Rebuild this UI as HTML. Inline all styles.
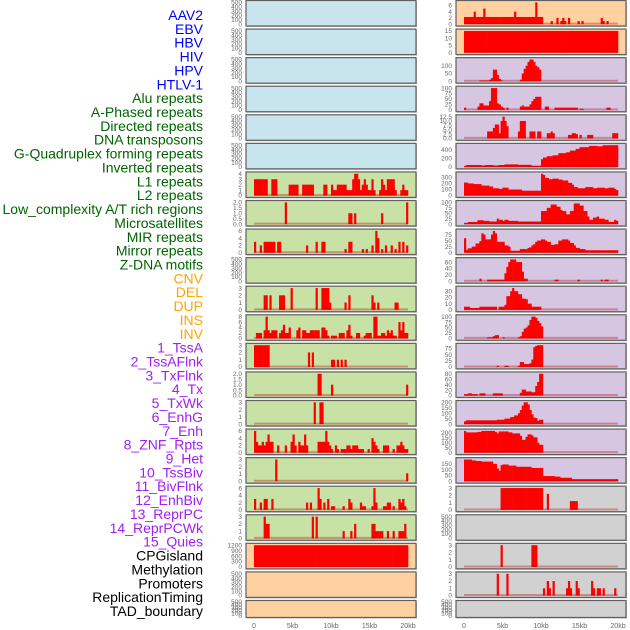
<!DOCTYPE html>
<html><head><meta charset="utf-8"><style>
html,body{margin:0;padding:0;background:#fff;}
svg{display:block;font-family:"Liberation Sans",sans-serif;}
</style></head><body>
<svg id="chart" width="630" height="630" viewBox="0 0 630 630"></svg>
<script>
// ---- data ----
const labels = ["AAV2","EBV","HBV","HIV","HPV","HTLV-1","Alu repeats","A-Phased repeats","Directed repeats","DNA transposons","G-Quadruplex forming repeats","Inverted repeats","L1 repeats","L2 repeats","Low_complexity A/T rich regions","Microsatellites","MIR repeats","Mirror repeats","Z-DNA motifs","CNV","DEL","DUP","INS","INV","1_TssA","2_TssAFlnk","3_TxFlnk","4_Tx","5_TxWk","6_EnhG","7_Enh","8_ZNF_Rpts","9_Het","10_TssBiv","11_BivFlnk","12_EnhBiv","13_ReprPC","14_ReprPCWk","15_Quies","CPGisland","Methylation","Promoters","ReplicationTiming","TAD_boundary"];
const labelGroups = ["v","v","v","v","v","v","r","r","r","r","r","r","r","r","r","r","r","r","r","s","s","s","s","s","c","c","c","c","c","c","c","c","c","c","c","c","c","c","c","o","o","o","o","o"];
const xTickValues = [0,5,10,15,20];
const xTickLabels = ["0","5kb","10kb","15kb","20kb"];
const leftBg = ["b","b","b","b","b","b","g","g","g","g","g","g","g","g","g","g","g","g","g","o","o","o"];
const rightBg = ["o","o","p","p","p","p","p","p","p","p","p","p","p","p","p","p","p","g2","g2","g2","g2","g2"];
const E = [];
const EMPTY_TICKS = ["0","100","200","300","400","500"];
const L6 = [3,3,3,3,3,3,3,0,0,3, 3,3,0,0,0,0,0,0,2,2, 2,2,2,0,0,2,2,2,2,2, 2,0,0,0,0,0,2,2,0,0, 2,1,1,2,2,2,2,2,1,1, 1,3,4,4,3,1,2,3,2,1, 1,3,1,0,0,1,3,2,1,3, 3,3,3,1,0,0,1,2,1,1];
const L7 = [0,0,0,0,0,0,0,0,0,0, 0,0,0,0,0,0,2,0,0,0, 0,0,0,0,0,0,0,0,0,0, 0,0,0,0,0,0,0,0,0,0, 0,0,0,0,0,0,0,0,0,1, 1,0,1,0,0,0,0,0,0,0, 0,0,0,0,0,0,1,0,0,0, 0,0,0,0,0,0,0,0,0,2];
const L8 = [3,0,0,2,0,3,3,3,3,3, 3,0,3,3,0,0,0,0,0,0, 0,0,0,0,0,0,0,2,0,0, 0,0,3,0,0,3,3,0,0,0, 0,0,0,0,0,0,0,1,0,3, 3,0,0,0,0,0,1,0,1,0, 0,2,0,6,4,0,1,0,2,0, 0,2,0,1,0,3,0,3,0,2];
const L10 = [0,0,0,0,0,2,2,0,2,0, 0,0,0,2,2,2,0,0,0,3, 0,0,0,0,0,0,0,0,0,0, 0,0,3,0,0,3,3,3,3,1, 0,0,0,0,0,0,0,1,0,2, 0,0,0,0,0,0,0,0,0,0, 0,2,1,0,1,0,0,0,0,0, 0,0,0,1,1,0,0,0,0,0];
const L11 = [0,2,2,2,0,3,8,3,2,3, 3,3,0,2,3,5,2,2,4,0, 0,0,3,4,0,3,3,2,2,3, 3,3,3,3,0,4,4,3,1,0, 1,1,1,0,2,2,2,0,3,5, 1,0,0,2,2,0,0,1,2,2, 2,0,8,8,1,1,2,2,1,3, 2,3,1,1,0,6,3,6,2,2];
const L12 = [3,3,3,3,3,3,3,3,0,0, 0,0,0,0,0,0,0,0,0,0, 0,0,0,0,0,0,0,0,2,0, 2,0,0,0,0,0,0,0,0,0, 1,1,0,1,0,1,0,1,0,0, 0,0,0,0,0,0,0,0,0,0, 0,0,0,0,0,0,0,0,0,0, 0,0,0,0,0,0,0,0,0,0];
const L13 = [0,0,0,0,0,0,0,0,0,0, 0,0,0,0,0,0,0,0,0,0, 0,0,0,0,0,0,0,0,0,0, 0,0,0,2,2,0,0,0,0,0, 1,0,0,0,0,0,0,0,0,0, 0,0,0,0,0,0,0,0,0,0, 0,0,0,0,0,0,0,0,0,0, 0,0,0,0,0,0,0,0,0,1];
const L14 = [0,0,0,0,0,0,0,0,0,0, 0,0,0,0,0,0,0,0,0,0, 0,0,0,0,0,0,0,0,0,0, 0,3,0,0,3,3,0,0,0,0, 0,0,0,0,0,0,0,0,0,0, 0,0,0,0,0,0,0,0,0,0, 0,0,0,0,0,0,0,0,0,0, 0,0,0,0,0,0,0,0,0,0];
const L15 = [6,3,2,2,3,2,3,5,3,3, 0,0,2,0,0,0,2,0,0,3, 5,2,0,3,2,2,5,2,0,0, 0,0,0,3,3,3,3,6,3,2, 1,0,2,1,0,1,1,1,2,2, 1,2,2,2,1,1,1,0,0,1, 0,4,3,2,1,0,0,2,2,2, 0,0,1,0,2,2,3,2,1,1];
const L16 = [0,0,0,0,0,0,0,0,0,0, 0,3,0,0,0,0,0,0,0,0, 0,0,0,0,0,0,0,0,0,0, 0,0,0,0,0,0,0,0,0,0, 0,0,0,0,0,0,0,0,0,0, 0,0,0,0,0,0,0,0,0,0, 0,0,0,0,0,0,0,0,0,0, 0,0,0,0,0,0,0,0,0,1.1];
const L17 = [3,0,0,2,0,3,3,0,0,3, 0,0,0,0,0,0,0,0,0,0, 0,0,0,0,0,0,0,2,0,2, 0,0,0,6,3,0,2,0,3,0, 1,1,0,0,0,0,1,0,0,3, 2,0,0,0,0,2,1,1,0,0, 0,1,6,2,0,0,0,1,1,2, 2,0,1,0,0,3,2,3,1,0];
const L18 = [0,0,0,0,0,3,2,2,0,0, 0,0,0,0,0,0,0,0,0,0, 0,0,0,0,0,0,0,0,0,0, 3,0,3,0,0,0,0,0,0,0, 0,0,0,0,0,0,1,0,0,0, 1,0,2,0,0,0,0,0,0,0, 0,2,2,1,1,1,1,0,0,1, 0,0,1,0,0,1,1,1,2,0];
const L19 = [1200,1200,1200,1200,1200,1200,1200,1200,1200,1200, 1200,1200,1200,1200,1200,1200,1200,1200,1200,1200];
const R0 = [2.3,2.3,2.3,2.3,2.3,4,2.3,2.3,2.3,2.3, 5,2.3,2.3,2.3,2.3,2.3,2.3,2.3,2.3,2.3, 2.3,2.3,2.3,2.3,2.3,2.3,4,2.3,2.3,2.3, 2.3,2.3,2.3,2.3,2.3,2.3,2.3,7,2.3,2.3, 2.3,0,0,0,0,1,0,0,2,0, 1,2,1,0,2,0,0,0,0,1, 0,1,0,0,0,0,0,0,0,0, 0,2,1,0,1,0,0,0,0,0];
const R1 = [15,15,15,15,15,15,15,15,15,15, 15,15,15,15,15,15,15,15,15,15];
const R2 = [0,0,0,0,0,0,0,0,5,5, 5,5,5,10,20,75,75,40,15,5, 0,0,0,0,0,0,0,0,0,10, 50,80,100,125,140,140,125,100,90,75, 0,0,0,0,0,0,0,0,0,0, 0,0,0,0,0,0,0,0,0,0, 0,0,0,0,0,0,0,0,0,0, 0,0,0,0,0,0,0,0,0,0];
const R3 = [10,0,0,0,0,0,0,15,30,30, 20,20,20,40,100,100,100,30,25,15, 10,0,10,0,0,0,0,0,0,15, 20,15,15,15,25,40,50,60,60,60, 0,0,15,15,0,0,0,10,10,10, 10,10,10,10,10,10,10,10,10,0, 5,5,0,0,0,0,0,0,0,0, 0,0,0,0,10,10,0,0,0,0];
const R4 = [0,0,0,0,0,0,0,0,0,0, 0,0,4,4,4,6,8,8,3,10, 12.5,10,7,0,0,0,0,0,4,10, 10,10,0,0,4,4,4,0,4,4, 0,0,0,3,3,4,3,0,0,0, 0,0,0,0,2,2,3,3,2.5,0, 2,0,0,0,2,2,2,0,0,0, 0,0,0,0,0,0,0,3,3,3];
const R5 = [20,45,45,45,45,45,45,45,45,35, 35,45,45,45,45,35,35,35,45,45, 45,60,60,60,60,60,60,60,50,50, 50,50,50,50,50,25,25,25,25,25, 180,220,220,250,250,250,270,270,270,320, 320,320,320,340,340,380,380,380,420,420, 460,460,460,460,460,490,490,490,490,480, 480,480,505,505,505,505,505,505,505,505];
const R6 = [215,215,200,200,200,190,190,190,190,165, 165,165,165,150,150,120,120,120,110,110, 130,130,130,100,100,100,100,100,100,100, 80,80,80,80,80,80,80,80,80,80, 360,340,290,290,270,270,280,280,280,265, 265,250,250,250,210,210,180,140,140,120, 120,120,120,140,140,140,140,120,120,130, 130,130,130,120,120,130,130,130,110,90];
const R7 = [5,5,10,10,10,10,10,18,18,18, 15,15,15,12,12,12,12,25,20,20, 15,20,20,15,15,15,15,15,12,12, 12,12,12,12,12,12,12,12,12,12, 60,60,60,75,75,90,90,90,80,80, 65,60,60,45,45,60,60,95,95,95, 85,85,60,60,35,20,20,30,30,35, 25,25,25,20,20,10,10,10,20,15];
const R8 = [60,12,18,18,25,25,38,38,48,80, 75,55,55,55,75,90,80,45,45,45, 45,30,30,25,8,8,8,8,8,15, 15,15,15,20,22,30,35,45,50,50, 55,55,50,45,45,32,32,35,35,50, 50,55,55,55,50,40,40,30,20,20, 15,15,15,10,10,10,10,10,10,10, 10,10,10,10,10,10,10,10,10,10];
const R9 = [0,0,0,0,0,0,0,0,8,0, 0,0,5,5,5,5,5,5,5,5, 5,25,45,60,68,68,68,60,60,60, 30,8,8,0,0,0,0,0,0,0, 0,0,0,0,0,0,0,5,5,0, 0,0,0,0,0,0,0,0,0,5, 0,0,0,0,0,0,0,0,0,0, 0,5,0,5,5,0,0,0,0,0];
const R10 = [5,5,5,3,3,3,3,3,5,5, 5,5,5,5,5,5,5,0,5,5, 5,8,22,22,30,35,30,30,25,25, 18,18,17,10,10,5,5,5,5,5, 0,0,0,0,0,0,0,0,0,0, 0,0,0,0,0,0,0,0,0,0, 0,0,0,0,0,0,0,0,0,0, 0,0,0,0,0,0,0,0,0,0];
const R11 = [0,0,0,0,0,0,0,0,0,0, 0,0,5,5,5,10,15,15,0,0, 5,0,0,0,0,0,0,0,5,10, 30,45,50,60,85,100,100,95,80,70, 55,0,0,0,0,0,0,0,0,0, 0,0,0,0,0,0,0,0,0,0, 0,0,0,0,0,0,0,0,0,0, 0,0,0,0,0,0,0,0,0,0];
const R12 = [0,0,0,0,0,0,0,0,0,0, 0,0,0,0,0,0,0,5,0,0, 0,5,5,0,0,0,0,0,5,20, 20,12,12,12,15,30,80,85,88,88, 88,0,0,0,0,0,0,0,0,0, 0,0,0,0,0,0,0,0,0,0, 0,0,0,0,0,0,0,0,0,0, 0,0,0,0,0,0,0,0,0,0];
const R13 = [5,5,8,8,5,5,5,0,8,8, 8,0,0,0,0,8,8,8,8,8, 0,0,0,0,0,0,0,0,0,10, 22,22,15,15,15,12,12,35,50,80, 80,0,0,0,0,0,0,0,0,0, 0,0,0,0,0,0,0,0,0,0, 0,0,0,0,0,0,0,0,0,0, 0,0,0,0,0,0,0,0,0,0];
const R14 = [25,35,35,35,35,35,35,35,35,35, 35,35,35,35,35,35,35,40,40,40, 40,50,50,50,65,65,80,80,100,130, 170,200,200,180,130,90,60,55,30,40, 40,0,0,0,0,0,0,0,0,0, 0,0,0,0,0,0,0,0,0,0, 0,0,0,0,0,0,0,0,0,0, 0,0,0,0,0,0,0,0,0,0];
const R15 = [220,205,205,205,205,205,205,210,210,220, 220,220,220,220,220,220,210,195,215,215, 215,215,215,205,205,195,195,195,195,170, 130,130,160,185,185,175,155,155,100,80, 80,0,0,0,0,0,0,0,0,0, 0,0,0,0,0,0,0,0,0,0, 0,0,0,0,0,0,0,0,0,0, 0,0,0,0,0,0,0,0,0,0];
const R16 = [188,188,188,188,180,180,175,175,175,170, 170,170,170,170,170,150,150,110,90,140, 145,145,145,135,135,135,135,125,125,125, 125,125,125,125,125,115,115,115,115,115, 115,45,45,45,45,45,45,40,40,40, 30,30,30,30,30,30,18,18,18,18, 18,18,18,18,18,18,18,18,18,18, 18,18,18,18,18,18,18,18,18,18];
const R17 = [0,0,0,0,0,0,0,0,0,0, 0,0,0,0,0,0,0,0,0,3, 3,3,3,3,3,3,3,3,3,3, 3,3,3,3,3,3,3,3,3,3, 3,0,0,2.2,0,0,0,0,0,0, 0,0,0,0,0,1.2,1.2,1.2,1.2,0, 0,0,0,0,0,0,0,0,0,0, 0,0,0,0,0,0,0,0,0,0];
const R19 = [0,0,0,0,0,0,0,0,0,0, 0,0,0,0,0,0,0,0,0,3, 0,0,0,0,0,0,0,0,0,0, 0,0,0,0,0,3,3,3,0,0, 0,0,0,0,0,0,0,0,0,0, 0,0,0,0,0,0,0,0,0,0, 0,0,0,0,0,0,0,0,0,0, 0,0,0,0,0,0,0,0,0,0];
const R20 = [0,0,0,0,0,0,0,0,0,0, 0,0,0,0,0,0,0,3,0,0, 0,0,3,0,0,0,0,0,0,0, 0,0,0,0,0,0,0,0,0,0, 0,1,0,2,1,0,2,0,0,0, 0,0,0,1,2,1,0,0,2,1, 0,0,0,0,0,0,2,1,0,1, 1,0,1,0,0,0,0,0,1,0];
const leftSeries = [E,E,E,E,E,E,L6,L7,L8,E,L10,L11,L12,L13,L14,L15,L16,L17,L18,L19,E,E];
const rightSeries = [R0,R1,R2,R3,R4,R5,R6,R7,R8,R9,R10,R11,R12,R13,R14,R15,R16,R17,E,R19,R20,E];
const T4=["0","1","2","3","4"], T3=["0","1","2","3"], T2d=["0.0","0.5","1.0","1.5","2.0"], T6=["0","2","4","6"], T8=["0","2","4","6","8"];
const leftTicks = [EMPTY_TICKS,EMPTY_TICKS,EMPTY_TICKS,EMPTY_TICKS,EMPTY_TICKS,EMPTY_TICKS,T4,T2d,T6,EMPTY_TICKS,T3,T8,T3,T2d,T3,T6,T3,T6,T3,["0","300","600","900","1200"],EMPTY_TICKS,EMPTY_TICKS];
const rightTicks = [T6,["0","5","10","15"],["0","50","100"],["0","25","50","75","100"],["0.0","2.5","5.0","7.5","10.0","12.5"],["0","200","400"],["0","100","200","300"],["0","25","50","75","100"],["0","25","50","75"],["0","20","40","60"],["0","10","20","30"],["0","25","50","75","100"],["0","25","50","75"],["0","20","40","60","80"],["0","50","100","150","200"],["0","50","100","150","200"],["0","50","100","150"],T3,EMPTY_TICKS,T3,T3,EMPTY_TICKS];

// ---- drawing ----
const NS="http://www.w3.org/2000/svg";
const svg=document.getElementById('chart');
function mk(tag,attrs,parent){const e=document.createElementNS(NS,tag);for(const k in attrs)e.setAttribute(k,attrs[k]);(parent||svg).appendChild(e);return e;}
const groupColor={v:"#0000ff",r:"#006400",s:"#ffa500",c:"#a020f0",o:"#000000"};
const bgColor={b:"#c8e4ec",g:"#c8e1a5",o:"#ffd1a1",p:"#d6c6e2",g2:"#d1d1d1"};
const gl=mk('g',{});


labels.forEach((t,i)=>{
  const tx=mk('text',{x:203,y:20+13.86*i,'text-anchor':'end','font-size':14,fill:groupColor[labelGroups[i]]},gl);
  tx.textContent=t;
  
  
});
const PITCH=28.57;
function panel(col,i,series,ticks,bgKey){
  const left = col===0?246:456;
  const W=170, top=0.5+PITCH*i, H = i===21?17:25.5;
  const g=mk('g',{});
  
  
  mk('rect',{x:left+1,y:top+1,width:W,height:H,fill:'#bbb'},g);
  mk('rect',{x:left,y:top,width:W,height:H,fill:bgColor[bgKey],stroke:'#5f5f5f','stroke-width':1.2},g);
  const x=kb=>left+8+kb*7.7;
  const dmax=series.length?Math.max(...series):0;
  const tmax=parseFloat(ticks[ticks.length-1]);
  const M=Math.max(dmax,tmax);
  const y0=top+H-1, y1=top+1;
  const y=v=>y0-(v+0.04*M)/(1.08*M)*(y0-y1);
  ticks.forEach(t=>{
    const lt=mk('text',{x:left-4,y:y(parseFloat(t))+2.2,'text-anchor':'end','font-size':6.5,fill:'#666'},g);
    lt.textContent=t;
    
    
  });
  if(series.length){
    const bw=20/series.length;
    series.forEach((v,j)=>{
      if(v<=0)return;
      const r=mk('rect',{x:x(j*bw),y:y(v),width:x((j+1)*bw)-x(j*bw)+0.3,height:y(0)-y(v),fill:'#ff0000'},g);
      
      
    });
    const bl=mk('line',{x1:x(0),x2:x(20),y1:y(0)-0.5,y2:y(0)-0.5,stroke:'rgba(190,0,0,0.35)','stroke-width':2},g);
    
    
  }
  if(i===21){
    xTickValues.forEach((v,k)=>{
      const xt=mk('text',{x:x(v),y:628,'text-anchor':'middle','font-size':7,fill:'#666'},svg);
      xt.textContent=xTickLabels[k];
      
      
    });
  }
}
for(let i=0;i<22;i++){
  panel(0,i,leftSeries[i],leftTicks[i],leftBg[i]);
  panel(1,i,rightSeries[i],rightTicks[i],rightBg[i]);
}
</script>
</body></html>
